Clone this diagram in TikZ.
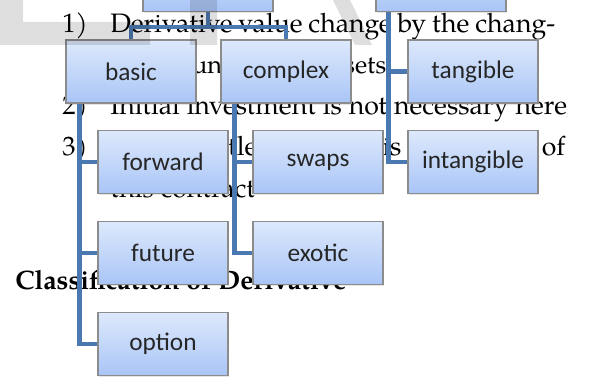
\documentclass[tikz,border=0pt]{standalone}
\usepackage{fontspec}
\newfontfamily\boxfont{Carlito}
\newfontfamily\bodyfamily{TeX Gyre Pagella}
\newcommand\bodyfont{\bodyfamily\fontsize{20}{24}\selectfont}
\usetikzlibrary{shadows,backgrounds}
\definecolor{boxtop}{HTML}{DDE9FC}
\definecolor{boxbot}{HTML}{A9C5F7}
\definecolor{boxline}{HTML}{8C8C8C}
\definecolor{linkblue}{HTML}{4A78B0}
\begin{document}
\begin{tikzpicture}[x=0.75pt, y=-0.75pt,
  box/.style = {draw=boxline, line width=0.8pt,
    top color=boxtop, bottom color=boxbot,
    minimum width=97.5pt, minimum height=47.25pt, inner sep=0pt,
    font=\boxfont\fontsize{19}{22}\selectfont, text=black!85,
    drop shadow={opacity=0.2, shadow xshift=1pt, shadow yshift=-1.2pt}},
  link/.style = {draw=linkblue, line width=3.6pt},
  txt/.style  = {anchor=base west, inner sep=0pt, font=\bodyfont}]
\useasboundingbox (0,0) rectangle (601,377);
\clip (0,0) rectangle (601,377);
% hierarchy
\node[box] (head1) at (208,-20) {};
\node[box] (head2) at (441,-20) {};
\node[box] (basic) at (131,71.5) {basic};
\node[box] (complex) at (286,71.5) {complex};
\node[box] (tangible) at (473,71.5) {tangible};
\node[box] (forward) at (163,162) {forward};
\node[box] (swaps) at (318,162) {swaps};
\node[box] (intangible) at (473,162) {intangible};
\node[box] (future) at (163,253) {future};
\node[box] (exotic) at (318,253) {exotic};
\node[box] (option) at (163,344) {option};
\begin{scope}[on background layer]
% page text
\node[txt] (num1) at (62,33) {1)};
\node[txt] (line1) at (110,33) {\makebox[333.75pt][s]{Derivative value change by the chang-}};
\node[txt, font=\bodyfamily\fontsize{19}{24}\selectfont] (line2) at (110,74)
  {\makebox[207pt][s]{ing the underlying assets}};
\node[txt] (num2) at (62,115) {2)};
\node[txt] (line3) at (110,115) {\makebox[342.75pt][s]{Initial investment is not necessary here}};
\node[txt] (num3) at (62,156) {3)};
\node[txt] (line4) at (110,156) {\makebox[341.25pt][s]{Future settlement date is the feature of}};
\node[txt] (line5) at (110,198) {this contract};
\node[txt, font=\bodyfont\bfseries] (title) at (15,290) {Classification of Derivative};
% connectors
\draw[link] (head1.south) -- ++(0,15) -| (basic.north);
\draw[link] (head1.south) ++(0,15) -| (complex.north);
\foreach \n in {tangible, intangible}
  \draw[link] (head2.south west) ++(13,0) |- (\n.west);
\foreach \n in {forward, future, option}
  \draw[link] (basic.south west) ++(14,0) |- (\n.west);
\foreach \n in {swaps, exotic}
  \draw[link] (complex.south west) ++(14,0) |- (\n.west);
\end{scope}
% watermark
\fill[black, opacity=0.13] (0,0) rectangle (23,22) (0,22) rectangle (150,45)
  (190,0) rectangle (217,45)
  (333,0) -- (350,0) -- (372,45) -- (355,45) -- cycle;
\end{tikzpicture}
\end{document}
